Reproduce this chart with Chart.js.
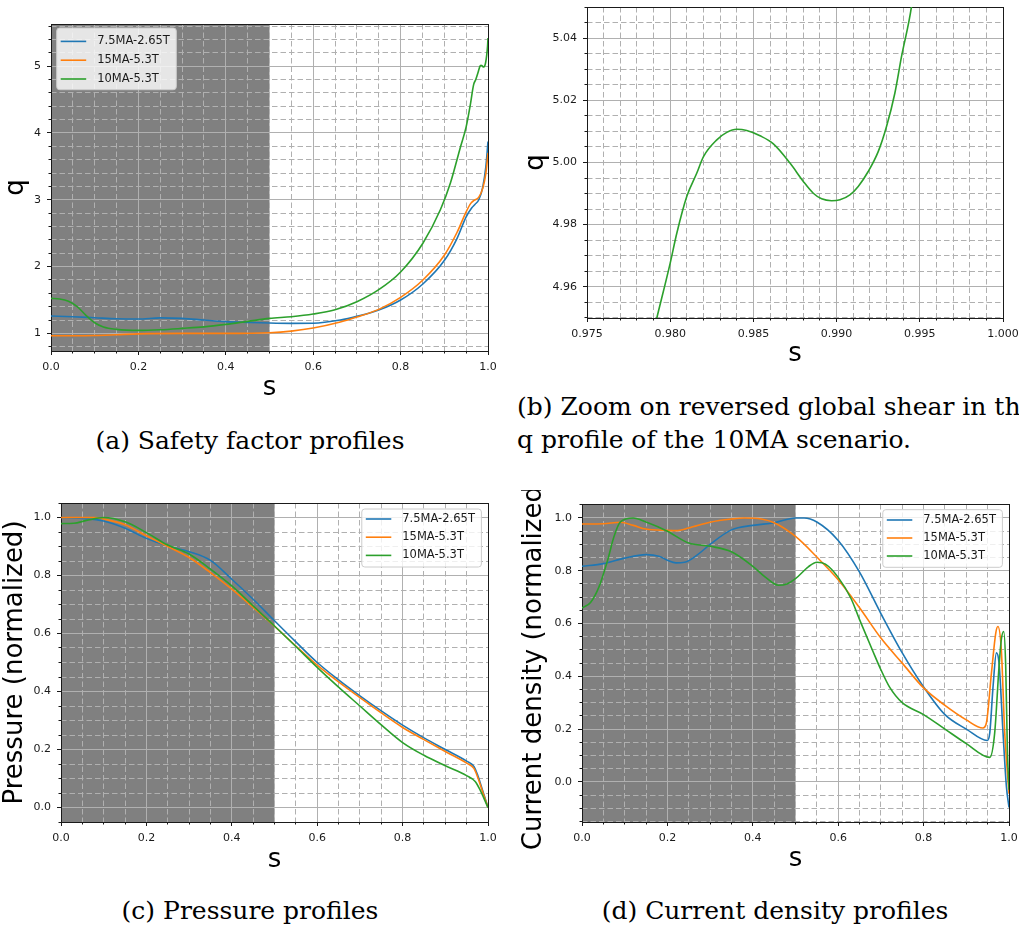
<!DOCTYPE html>
<html>
<head>
<meta charset="utf-8">
<title>Safety factor, pressure and current density profiles</title>
<script src="https://cdn.jsdelivr.net/npm/chart.js@4.4.1/dist/chart.umd.min.js"></script>
<style>
  body { margin: 0; background: #fff; }
  #fig { position: relative; width: 1019px; height: 927px; overflow: hidden; background: #fff; }
  #fig canvas { position: absolute; }
  .cap { position: absolute; font-family: "DejaVu Serif", serif; font-size: 25px; line-height: 30px; color: #000; white-space: nowrap; }
</style>
</head>
<body>
<div id="fig">
  <canvas id="chartA" width="505" height="410" style="left:0;top:0"></canvas>
  <canvas id="chartB" width="514" height="380" style="left:505px;top:0"></canvas>
  <canvas id="chartC" width="505" height="400" style="left:0;top:483px"></canvas>
  <canvas id="chartD" width="514" height="393" style="left:505px;top:490px"></canvas>
  <div class="cap" style="left:0;width:500px;text-align:center;top:426px">(a) Safety factor profiles</div>
  <div class="cap" style="left:517px;top:390px;line-height:33px">(b) Zoom on reversed global shear in the<br>q profile of the 10MA scenario.</div>
  <div class="cap" style="left:0;width:500px;text-align:center;top:896px">(c) Pressure profiles</div>
  <div class="cap" style="left:525px;width:500px;text-align:center;top:896px">(d) Current density profiles</div>
</div>
<script>
Chart.defaults.font.family = '"DejaVu Sans", sans-serif'

const seriesNames = ['7.5MA-2.65T', '15MA-5.3T', '10MA-5.3T']
const seriesColors = ['#1f77b4', '#ff7f0e', '#2ca02c']

// (a) safety factor q(s)
const qBlueS = [0, 0.05, 0.1, 0.15, 0.2, 0.25, 0.3, 0.35, 0.4, 0.45, 0.5, 0.55, 0.6, 0.662, 0.7, 0.75, 0.8, 0.851, 0.9, 0.929, 0.95, 0.963, 0.97, 0.979, 0.988, 0.995, 1.0]
const qBlueV = [1.26, 1.25, 1.235, 1.22, 1.215, 1.232, 1.225, 1.2, 1.177, 1.165, 1.155, 1.15, 1.152, 1.2, 1.255, 1.35, 1.5, 1.74, 2.09, 2.42, 2.745, 2.88, 2.93, 3.0, 3.19, 3.49, 3.87]
const qOrangeS = [0, 0.05, 0.1, 0.15, 0.2, 0.3, 0.4, 0.5, 0.55, 0.6, 0.662, 0.7, 0.75, 0.8, 0.851, 0.9, 0.929, 0.95, 0.961, 0.968, 0.979, 0.988, 0.995, 1.0]
const qOrangeV = [0.965, 0.965, 0.968, 0.98, 0.993, 1.0, 1.0, 1.01, 1.035, 1.08, 1.17, 1.245, 1.36, 1.54, 1.8, 2.17, 2.51, 2.82, 2.95, 2.99, 3.04, 3.17, 3.39, 3.7]
// green q is also the curve of the zoom (b)
const qGreenS = [0, 0.02, 0.04, 0.06, 0.08, 0.1, 0.12, 0.15, 0.2, 0.25, 0.3, 0.35, 0.4, 0.45, 0.5, 0.55, 0.6, 0.65, 0.7, 0.75, 0.8, 0.851, 0.891, 0.914, 0.937, 0.95, 0.96, 0.967, 0.972, 0.9765,
  0.9792, 0.98, 0.9804, 0.981, 0.9816, 0.982, 0.9828, 0.9834, 0.984, 0.9846, 0.9854, 0.9862, 0.9872, 0.988, 0.9886, 0.9891, 0.9897, 0.9902, 0.9908, 0.9913, 0.9919, 0.9925, 0.993, 0.9935, 0.9939, 0.9945, 0.997, 0.999, 1.0]
const qGreenV = [1.525, 1.515, 1.48, 1.4, 1.27, 1.16, 1.095, 1.06, 1.045, 1.055, 1.075, 1.098, 1.135, 1.18, 1.225, 1.25, 1.29, 1.355, 1.475, 1.655, 1.92, 2.35, 2.85, 3.25, 3.79, 4.09, 4.44, 4.72, 4.8, 4.89,
  4.95, 4.9676, 4.9773, 4.9891, 4.9966, 5.0019, 5.0073, 5.0097, 5.0107, 5.0103, 5.0086, 5.006, 4.9998, 4.9939, 4.9901, 4.9883, 4.9877, 4.988, 4.9896, 4.9923, 4.9971, 5.0035, 5.0116, 5.0223, 5.0341, 5.0502, 5.16, 5.3, 5.42]

// (c) pressure (normalized)
const pBlueS = [0, 0.05, 0.1, 0.15, 0.2, 0.25, 0.3, 0.35, 0.4, 0.45, 0.5, 0.55, 0.6, 0.65, 0.7, 0.75, 0.8, 0.85, 0.9, 0.95, 0.967, 0.975, 0.985, 1.0]
const pBlueV = [1.0, 0.997, 0.988, 0.963, 0.928, 0.902, 0.882, 0.852, 0.787, 0.718, 0.644, 0.571, 0.5, 0.44, 0.385, 0.333, 0.284, 0.24, 0.2, 0.16, 0.142, 0.115, 0.07, 0.0]
const pOrangeS = [0, 0.05, 0.08, 0.1, 0.15, 0.2, 0.25, 0.3, 0.35, 0.4, 0.45, 0.5, 0.55, 0.6, 0.65, 0.7, 0.75, 0.8, 0.85, 0.9, 0.95, 0.967, 0.975, 0.985, 1.0]
const pOrangeV = [1.0, 1.0, 1.0, 0.995, 0.975, 0.937, 0.9, 0.862, 0.81, 0.753, 0.69, 0.625, 0.557, 0.491, 0.433, 0.379, 0.326, 0.276, 0.234, 0.193, 0.153, 0.135, 0.108, 0.065, 0.0]
const pGreenS = [0, 0.03, 0.06, 0.1, 0.15, 0.2, 0.25, 0.3, 0.35, 0.4, 0.45, 0.5, 0.55, 0.6, 0.65, 0.7, 0.75, 0.8, 0.85, 0.9, 0.95, 0.97, 0.98, 0.99, 1.0]
const pGreenV = [0.979, 0.98, 0.99, 1.0, 0.985, 0.948, 0.905, 0.874, 0.822, 0.764, 0.695, 0.626, 0.555, 0.483, 0.415, 0.35, 0.285, 0.224, 0.18, 0.144, 0.11, 0.09, 0.065, 0.033, 0.0]

// (d) current density (normalized)
const jBlueS = [0, 0.05, 0.1, 0.15, 0.18, 0.2, 0.22, 0.24, 0.27, 0.3, 0.35, 0.4, 0.45, 0.5, 0.52, 0.55, 0.6, 0.65, 0.7, 0.75, 0.8, 0.85, 0.9, 0.949, 0.955, 0.9627, 0.9705, 0.9767, 0.986, 0.9939, 1.0]
const jBlueV = [0.817, 0.827, 0.848, 0.861, 0.855, 0.84, 0.83, 0.832, 0.86, 0.9, 0.955, 0.972, 0.982, 1.0, 1.0, 0.985, 0.915, 0.795, 0.638, 0.489, 0.36, 0.255, 0.2, 0.157, 0.186, 0.362, 0.489, 0.45, 0.186, -0.017, -0.097]
const jOrangeS = [0, 0.05, 0.09, 0.12, 0.15, 0.2, 0.22, 0.25, 0.3, 0.35, 0.38, 0.42, 0.45, 0.5, 0.55, 0.6, 0.65, 0.7, 0.75, 0.8, 0.85, 0.9, 0.939, 0.947, 0.9589, 0.969, 0.974, 0.982, 0.99, 1.0]
const jOrangeV = [0.977, 0.978, 0.984, 0.972, 0.958, 0.953, 0.952, 0.962, 0.984, 0.996, 1.0, 0.996, 0.982, 0.93, 0.852, 0.766, 0.66, 0.545, 0.45, 0.356, 0.29, 0.235, 0.204, 0.223, 0.413, 0.564, 0.589, 0.501, 0.186, -0.045]
const jGreenS = [0, 0.02, 0.04, 0.06, 0.075, 0.09, 0.12, 0.15, 0.2, 0.25, 0.3, 0.35, 0.4, 0.43, 0.46, 0.48, 0.5, 0.53, 0.55, 0.57, 0.6, 0.63, 0.65, 0.68, 0.7, 0.72, 0.75, 0.8, 0.85, 0.9, 0.955, 0.9665, 0.9767, 0.982, 0.9876, 0.9923, 0.9962, 1.0]
const jGreenV = [0.659, 0.68, 0.74, 0.84, 0.93, 0.985, 1.0, 0.985, 0.95, 0.905, 0.893, 0.872, 0.817, 0.775, 0.745, 0.75, 0.77, 0.815, 0.832, 0.825, 0.775, 0.695, 0.615, 0.5, 0.425, 0.36, 0.3, 0.255, 0.2, 0.145, 0.093, 0.186, 0.438, 0.539, 0.57, 0.438, 0.122, -0.03]

const GRID = '#b0b0b0'
const INK = '#1a1a1a'

function pts(xs, ys) {
    return xs.map((x, i) => ({x: x, y: ys[i]}))
}

function series(xs, ys, k) {
    return {
        label: seriesNames[k],
        data: pts(xs, ys),
        borderColor: seriesColors[k],
        backgroundColor: seriesColors[k],
        borderWidth: 1.6,
        pointRadius: 0,
        cubicInterpolationMode: 'monotone',
        fill: false,
        order: 2 - k,   // matplotlib draws later series on top
        xAxisID: 'x',
        yAxisID: 'y'
    }
}

// force the box size of an axis so every chart area lands where it should
function squash(size, horiz) {
    return function (s) {
        if (horiz) s.height = size
        else s.width = size
        s.paddingLeft = s.paddingRight = s.paddingTop = s.paddingBottom = 0
    }
}

function mainAxis(pos, lim, step, dec, size, text, titlePad) {
    const horiz = pos === 'bottom'
    return {
        type: 'linear', axis: horiz ? 'x' : 'y', position: pos, min: lim[0], max: lim[1], weight: 1,
        ticks: {
            stepSize: step, includeBounds: false, autoSkip: false, maxRotation: 0, padding: 6,
            color: INK, font: {size: 11},
            callback: v => (Math.abs(v) < 1e-9 ? 0 : v).toFixed(dec)
        },
        grid: {color: GRID, lineWidth: 1, tickLength: 4, tickColor: INK, tickWidth: 1},
        border: {display: true, color: INK, width: 1},
        title: {display: true, text: text, color: '#000', font: {size: 26}, padding: titlePad},
        afterFit: squash(size, horiz)
    }
}

// dashed minor grid, no labels
function minorAxis(pos, lim, step) {
    const horiz = pos === 'bottom'
    return {
        type: 'linear', axis: horiz ? 'x' : 'y', position: pos, min: lim[0], max: lim[1], weight: 0,
        ticks: {stepSize: step, includeBounds: false, autoSkip: false, display: false},
        grid: {color: GRID, lineWidth: 1, tickLength: 2.5, tickColor: INK},
        border: {display: false, dash: [5.5, 3]},
        afterFit: squash(0, horiz)
    }
}

// top and right frame lines
function spine(pos) {
    const horiz = pos === 'top'
    return {
        type: 'linear', axis: horiz ? 'x' : 'y', position: pos, min: 0, max: 1,
        ticks: {display: false},
        grid: {display: true, drawOnChartArea: false, drawTicks: false},
        border: {display: true, color: INK, width: 1},
        afterFit: squash(0, horiz)
    }
}

const shadePlugin = {
    id: 'shade',
    beforeDraw(chart, args, opts) {
        const ctx = chart.ctx
        const area = chart.chartArea
        const xs = chart.scales.x
        const a = xs.getPixelForValue(opts.from)
        const b = xs.getPixelForValue(opts.to)
        ctx.save()
        ctx.fillStyle = opts.color
        ctx.fillRect(a, area.top, b - a, area.bottom - area.top)
        ctx.restore()
    }
}

// matplotlib style legend box inside the axes
const boxLegend = {
    id: 'boxLegend',
    afterDatasetsDraw(chart, args, opts) {
        const ctx = chart.ctx
        const area = chart.chartArea
        const sets = chart.data.datasets
        ctx.save()
        ctx.font = '11.5px "DejaVu Sans"'
        let textW = 0
        sets.forEach(d => { textW = Math.max(textW, ctx.measureText(d.label).width) })
        const w = 4 + 25.5 + 11 + textW + 6.5
        const h = opts.first + (sets.length - 1) * opts.step + opts.bottom
        const x = opts.side === 'right' ? area.right - 6.6 - w : area.left + 5.7
        const y = area.top + opts.top
        ctx.beginPath()
        ctx.roundRect(x, y, w, h, 3)
        ctx.fillStyle = 'rgba(255,255,255,0.8)'
        ctx.fill()
        ctx.strokeStyle = '#cccccc'
        ctx.lineWidth = 1
        ctx.stroke()
        sets.forEach((d, i) => {
            const ry = y + opts.first + i * opts.step
            ctx.strokeStyle = d.borderColor
            ctx.lineWidth = 1.6
            ctx.beginPath()
            ctx.moveTo(x + 4, ry)
            ctx.lineTo(x + 29.5, ry)
            ctx.stroke()
            ctx.fillStyle = INK
            ctx.textBaseline = 'middle'
            ctx.fillText(d.label, x + 40.5, ry)
        })
        ctx.restore()
    }
}

function panel(id, datasets, c) {
    return new Chart(document.getElementById(id), {
        type: 'line',
        data: {datasets: datasets},
        options: {
            responsive: false,
            animation: false,
            events: [],
            layout: {padding: c.pad},
            plugins: {
                legend: {display: false},
                tooltip: {enabled: false},
                shade: c.shade || false,
                boxLegend: c.legend || false
            },
            scales: {
                x: mainAxis('bottom', c.xLim, c.xStep, c.xDec, c.xSize, 's', {top: 0, bottom: c.xTitlePad}),
                y: mainAxis('left', c.yLim, c.yStep, c.yDec, c.ySize, c.yTitle, {top: c.yTitlePad, bottom: 0}),
                xMinor: minorAxis('bottom', c.xLim, c.xMinor),
                yMinor: minorAxis('left', c.yLim, c.yMinor),
                xTop: spine('top'),
                yRight: spine('right')
            }
        },
        plugins: [shadePlugin, boxLegend]
    })
}

const span = {from: 0, to: 0.5, color: '#808080'}

panel('chartA', [series(qBlueS, qBlueV, 0), series(qOrangeS, qOrangeV, 1), series(qGreenS, qGreenV, 2)], {
    pad: {left: 0, top: 24, right: 17, bottom: 0},
    xLim: [0, 1], xStep: 0.2, xMinor: 0.05, xDec: 1, xSize: 59, xTitlePad: 6.4,
    yLim: [0.737, 5.63], yStep: 1, yMinor: 0.2, yDec: 0, ySize: 51, yTitle: 'q', yTitlePad: 1,
    shade: span,
    legend: {side: 'left', top: 4, first: 13.4, step: 18.8, bottom: 10.7}
})

panel('chartB', [series(qGreenS, qGreenV, 2)], {
    pad: {left: 0, top: 7, right: 16, bottom: 0},
    xLim: [0.975, 1.0], xStep: 0.005, xMinor: 0.001, xDec: 3, xSize: 62, xTitlePad: 10.4,
    yLim: [4.9499, 5.0501], yStep: 0.02, yMinor: 0.005, yDec: 2, ySize: 82, yTitle: 'q', yTitlePad: 15.2
})

panel('chartC', [series(pBlueS, pBlueV, 0), series(pOrangeS, pOrangeV, 1), series(pGreenS, pGreenV, 2)], {
    pad: {left: 0, top: 20, right: 17, bottom: 0},
    xLim: [0, 1], xStep: 0.2, xMinor: 0.05, xDec: 1, xSize: 61, xTitlePad: 7.4,
    yLim: [-0.05, 1.05], yStep: 0.2, yMinor: 0.05, yDec: 1, ySize: 61, yTitle: 'Pressure (normalized)', yTitlePad: 0,
    shade: span,
    legend: {side: 'right', top: 6, first: 10, step: 18.2, bottom: 11.6}
})

panel('chartD', [series(jBlueS, jBlueV, 0), series(jOrangeS, jOrangeV, 1), series(jGreenS, jGreenV, 2)], {
    pad: {left: 0, top: 14, right: 10, bottom: 0},
    xLim: [0, 1], xStep: 0.2, xMinor: 0.05, xDec: 1, xSize: 61, xTitlePad: 8.4,
    yLim: [-0.152, 1.053], yStep: 0.2, yMinor: 0.05, yDec: 1, ySize: 77, yTitle: 'Current density (normalized)', yTitlePad: 13.7,
    shade: span,
    legend: {side: 'right', top: 5.7, first: 10.3, step: 18, bottom: 11.3}
})
</script>
</body>
</html>
